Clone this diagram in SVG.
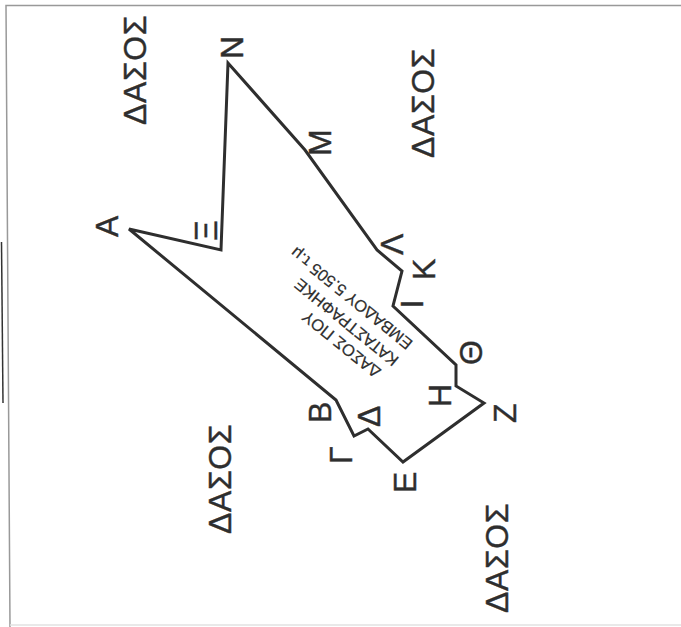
<svg xmlns="http://www.w3.org/2000/svg" width="681" height="627" viewBox="0 0 681 627">
<style>
text{font-family:"Liberation Sans",Arial,sans-serif;fill:#2e2e2e;stroke:#2e2e2e;stroke-width:.4}
.f{font-size:32px;letter-spacing:.6px}
.l{font-size:32px}
.c{font-size:16.5px;text-anchor:middle;stroke-width:.2}
.b{fill:none;stroke:#2e2e2e;stroke-width:3;stroke-linejoin:miter}
</style>
<rect width="681" height="627" fill="#fff"/>
<path d="M1.500 242L3 403" stroke="#333" stroke-width="1.500" fill="none"/>
<path d="M681 5.500H6L10 627" stroke="#999" stroke-width="1.500" fill="none"/>
<path d="M10 625H681" stroke="#e2e2e2" stroke-width="1.500" fill="none"/>
<g id="connectors"><path id="boundary" class="b" d="M129 229L221 250L228 63L305 150L377 250L402 271L393 306L456 365V386L484 403L403 462L368 429L354 436L336 400Z"/></g>
<g id="forest-1"><text class="f" transform="translate(146 125) rotate(-90)">ΔΑΣΟΣ</text></g>
<g id="forest-2"><text class="f" transform="translate(434 158) rotate(-90)">ΔΑΣΟΣ</text></g>
<g id="forest-3"><text class="f" transform="translate(231 534) rotate(-90)">ΔΑΣΟΣ</text></g>
<g id="forest-4"><text class="f" transform="translate(508 613) rotate(-90)">ΔΑΣΟΣ</text></g>
<g id="label-a"><text class="l" transform="translate(118 237) rotate(-90)">Α</text></g>
<g id="label-xi"><text class="l" transform="translate(217 241) rotate(-90)">Ξ</text></g>
<g id="label-n"><text class="l" transform="translate(243 59) rotate(-90)">Ν</text></g>
<g id="label-m"><text class="l" transform="translate(331 156) rotate(-90)">Μ</text></g>
<g id="label-lambda"><text class="l" transform="translate(403 255) rotate(-90)">Λ</text></g>
<g id="label-k"><text class="l" transform="translate(435 280) rotate(-90)">Κ</text></g>
<g id="label-i"><text class="l" transform="translate(423 308.500) rotate(-90)">Ι</text></g>
<g id="label-theta"><text class="l" transform="translate(482 365) rotate(-90)">Θ</text></g>
<g id="label-h"><text class="l" transform="translate(451 407) rotate(-90)">Η</text></g>
<g id="label-z"><text class="l" transform="translate(516 423) rotate(-90)">Ζ</text></g>
<g id="label-e"><text class="l" transform="translate(416 493) rotate(-90)">Ε</text></g>
<g id="label-delta"><text class="l" transform="translate(380 427) rotate(-90)">Δ</text></g>
<g id="label-gamma"><text class="l" transform="translate(352 464) rotate(-90)">Γ</text></g>
<g id="label-b"><text class="l" transform="translate(331 423) rotate(-90)">Β</text></g>
<g id="area-note"><text class="c" transform="translate(345 340) rotate(-141)">ΔΑΣΟΣ ΠΟΥ</text><text class="c" transform="translate(350 318) rotate(-141)">ΚΑΤΑΣΤΡΑΦΗΚΕ</text><text class="c" transform="translate(355 294) rotate(-141)">ΕΜΒΑΔΟΥ 5.505 τ.μ</text></g>
</svg>
